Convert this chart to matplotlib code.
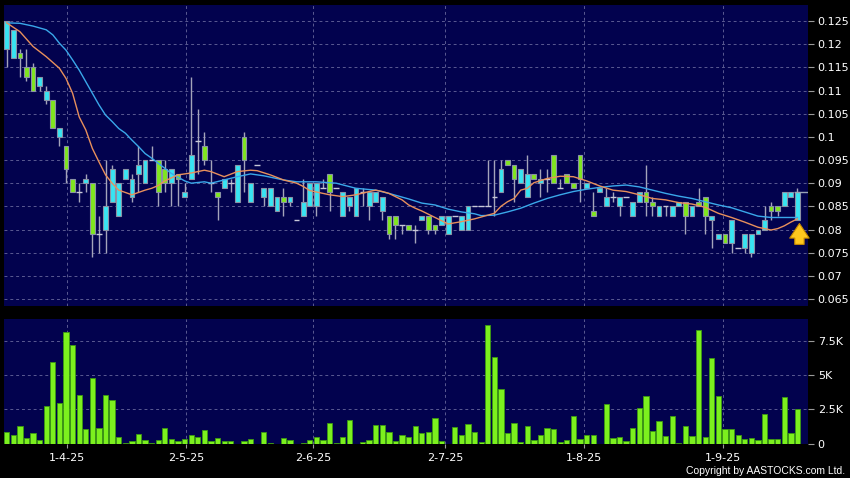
import matplotlib
matplotlib.use('Agg')
import matplotlib.pyplot as plt
import numpy as np

# OHLC (cyan = close above open, green = close below open)
opens = [0.119, 0.117, 0.118, 0.115, 0.115, 0.111, 0.108, 0.108, 0.100, 0.098,
         0.091, 0.088, 0.090, 0.090, 0.079, 0.080, 0.086, 0.083, 0.091, 0.087,
         0.092, 0.090, 0.095, 0.095, 0.093, 0.090, 0.092, 0.087, 0.091, 0.099,
         0.098, 0.090, 0.088, 0.089, 0.090, 0.086, 0.100, 0.086, 0.094, 0.087,
         0.085, 0.084, 0.087, 0.086, 0.082, 0.083, 0.085, 0.085, 0.089, 0.092,
         0.089, 0.083, 0.085, 0.083, 0.088, 0.085, 0.086, 0.084, 0.083, 0.083,
         0.081, 0.081, 0.080, 0.082, 0.083, 0.081, 0.081, 0.079, 0.083, 0.080,
         0.080, 0.085, 0.085, 0.085, 0.087, 0.088, 0.095, 0.094, 0.090, 0.087,
         0.092, 0.090, 0.091, 0.096, 0.089, 0.092, 0.090, 0.096, 0.089, 0.084,
         0.088, 0.085, 0.087, 0.085, 0.087, 0.083, 0.086, 0.088, 0.086, 0.083,
         0.085, 0.083, 0.085, 0.086, 0.083, 0.086, 0.087, 0.082, 0.078, 0.079,
         0.077, 0.076, 0.076, 0.075, 0.079, 0.080, 0.085, 0.085, 0.085, 0.087,
         0.082]
highs = [0.125, 0.123, 0.119, 0.119, 0.116, 0.113, 0.111, 0.108, 0.102, 0.098,
         0.091, 0.090, 0.092, 0.090, 0.083, 0.095, 0.094, 0.090, 0.093, 0.092,
         0.098, 0.095, 0.098, 0.095, 0.095, 0.093, 0.092, 0.090, 0.113, 0.106,
         0.101, 0.095, 0.088, 0.091, 0.091, 0.094, 0.101, 0.090, 0.094, 0.089,
         0.089, 0.087, 0.089, 0.087, 0.082, 0.091, 0.090, 0.090, 0.091, 0.092,
         0.089, 0.088, 0.087, 0.089, 0.089, 0.088, 0.088, 0.087, 0.083, 0.083,
         0.081, 0.081, 0.081, 0.083, 0.083, 0.081, 0.083, 0.083, 0.083, 0.083,
         0.085, 0.085, 0.085, 0.095, 0.095, 0.095, 0.095, 0.094, 0.093, 0.096,
         0.092, 0.093, 0.093, 0.096, 0.091, 0.092, 0.090, 0.096, 0.090, 0.088,
         0.089, 0.089, 0.088, 0.087, 0.087, 0.086, 0.088, 0.094, 0.087, 0.085,
         0.085, 0.085, 0.086, 0.086, 0.085, 0.089, 0.087, 0.083, 0.079, 0.079,
         0.082, 0.076, 0.079, 0.079, 0.080, 0.085, 0.086, 0.085, 0.088, 0.088,
         0.089]
lows = [0.115, 0.117, 0.113, 0.112, 0.110, 0.110, 0.107, 0.102, 0.098, 0.090,
        0.088, 0.086, 0.088, 0.074, 0.075, 0.075, 0.086, 0.083, 0.091, 0.086,
        0.088, 0.090, 0.095, 0.085, 0.088, 0.085, 0.085, 0.087, 0.091, 0.092,
        0.094, 0.088, 0.082, 0.089, 0.088, 0.086, 0.088, 0.086, 0.094, 0.085,
        0.085, 0.084, 0.083, 0.085, 0.082, 0.083, 0.085, 0.083, 0.089, 0.084,
        0.089, 0.083, 0.084, 0.083, 0.085, 0.082, 0.086, 0.082, 0.078, 0.078,
        0.079, 0.080, 0.077, 0.082, 0.079, 0.079, 0.081, 0.079, 0.083, 0.080,
        0.080, 0.085, 0.085, 0.085, 0.083, 0.088, 0.094, 0.086, 0.090, 0.087,
        0.091, 0.087, 0.088, 0.090, 0.089, 0.090, 0.089, 0.086, 0.089, 0.083,
        0.088, 0.085, 0.086, 0.083, 0.087, 0.083, 0.086, 0.083, 0.083, 0.083,
        0.083, 0.083, 0.085, 0.079, 0.083, 0.085, 0.079, 0.076, 0.078, 0.077,
        0.075, 0.076, 0.075, 0.074, 0.079, 0.080, 0.082, 0.083, 0.085, 0.087,
        0.082]
closes = [0.125, 0.123, 0.117, 0.113, 0.110, 0.113, 0.110, 0.102, 0.102, 0.093,
          0.088, 0.088, 0.091, 0.079, 0.079, 0.085, 0.093, 0.090, 0.093, 0.091,
          0.094, 0.095, 0.095, 0.088, 0.090, 0.093, 0.091, 0.088, 0.096, 0.099,
          0.095, 0.090, 0.087, 0.091, 0.090, 0.094, 0.095, 0.090, 0.094, 0.089,
          0.089, 0.087, 0.086, 0.087, 0.082, 0.086, 0.090, 0.090, 0.089, 0.088,
          0.089, 0.088, 0.087, 0.089, 0.088, 0.088, 0.088, 0.087, 0.079, 0.081,
          0.081, 0.080, 0.080, 0.083, 0.080, 0.080, 0.083, 0.083, 0.083, 0.083,
          0.085, 0.085, 0.085, 0.085, 0.087, 0.093, 0.094, 0.091, 0.093, 0.092,
          0.091, 0.091, 0.091, 0.090, 0.089, 0.090, 0.089, 0.091, 0.090, 0.083,
          0.089, 0.087, 0.087, 0.087, 0.087, 0.086, 0.088, 0.086, 0.085, 0.085,
          0.085, 0.085, 0.086, 0.083, 0.085, 0.085, 0.083, 0.083, 0.079, 0.077,
          0.082, 0.076, 0.079, 0.079, 0.080, 0.082, 0.084, 0.084, 0.088, 0.088,
          0.088]

# volume in thousands of shares
volume_k = [0.81, 0.66, 1.32, 0.44, 0.78, 0.27, 2.72, 5.98, 2.94, 8.2,
            7.25, 3.58, 1.08, 4.78, 1.13, 3.53, 3.2, 0.51, 0.05, 0.17,
            0.69, 0.27, 0.07, 0.29, 1.13, 0.32, 0.17, 0.34, 0.61, 0.51,
            0.96, 0.17, 0.44, 0.2, 0.2, 0.0, 0.17, 0.32, 0.0, 0.83,
            0.07, 0.0, 0.39, 0.25, 0.0, 0.02, 0.25, 0.49, 0.27, 1.47,
            0.07, 0.51, 1.72, 0.0, 0.1, 0.29, 1.37, 1.37, 0.88, 0.17,
            0.59, 0.47, 1.25, 0.78, 0.83, 1.86, 0.17, 0.0, 1.2, 0.59,
            1.4, 0.83, 0.1, 8.68, 6.37, 4.02, 0.76, 1.52, 0.1, 1.25,
            0.25, 0.66, 1.13, 1.05, 0.1, 0.29, 1.99, 0.34, 0.59, 0.59,
            0.0, 2.87, 0.44, 0.47, 0.15, 1.13, 2.6, 3.46, 0.91, 1.64,
            0.54, 2.03, 0.05, 1.25, 0.54, 8.31, 0.47, 6.3, 3.5, 1.08,
            1.08, 0.59, 0.32, 0.44, 0.25, 2.16, 0.34, 0.34, 3.38, 0.74,
            2.52]

# moving averages read at sample bars
ma10_idx = [0, 2, 4, 6, 8, 9, 10, 11, 12, 13, 14, 15, 16, 17, 18, 19, 20, 21, 22, 23,
            24, 26, 28, 30, 31, 33, 35, 37, 38, 40, 42, 44, 45, 46, 48, 49, 51, 53, 55, 56,
            57, 58, 59, 60, 61, 62, 63, 65, 67, 69, 71, 72, 74, 75, 76, 77, 78, 79, 80, 82,
            84, 86, 88, 90, 92, 94, 96, 98, 100, 102, 104, 106, 108, 110, 112, 114, 116, 117,
            118, 119, 120]
ma10_val = [0.1246, 0.1227, 0.1195, 0.1173, 0.1148, 0.1126, 0.1094, 0.1043, 0.1015, 0.0975,
            0.0946, 0.0918, 0.0900, 0.0885, 0.0880, 0.0875, 0.0880, 0.0885, 0.0889, 0.0895,
            0.0905, 0.0918, 0.0922, 0.0928, 0.0925, 0.0914, 0.0925, 0.0928, 0.0927, 0.0918,
            0.0907, 0.0900, 0.0893, 0.0884, 0.0878, 0.0875, 0.0871, 0.0875, 0.0882, 0.0885,
            0.0882, 0.0878, 0.0871, 0.0864, 0.0853, 0.0846, 0.0840, 0.0826, 0.0812, 0.0817,
            0.0823, 0.0827, 0.0835, 0.0850, 0.0860, 0.0867, 0.0885, 0.0889, 0.0901, 0.0910,
            0.0915, 0.0914, 0.0905, 0.0894, 0.0885, 0.0882, 0.0875, 0.0867, 0.0864, 0.0858,
            0.0855, 0.0848, 0.0835, 0.0826, 0.0816, 0.0805, 0.0799, 0.0802, 0.0808, 0.0816,
            0.0823]
ma20_idx = [0, 2, 4, 6, 7, 8, 9, 10, 11, 12, 13, 14, 15, 16, 17, 18, 19, 20, 21, 22,
            23, 24, 25, 27, 28, 30, 31, 33, 35, 37, 39, 42, 44, 47, 50, 53, 56, 58, 60, 61,
            63, 65, 67, 69, 71, 72, 74, 76, 78, 80, 82, 84, 86, 88, 90, 92, 94, 96, 98, 100,
            102, 104, 106, 108, 110, 112, 114, 116, 118, 120]
ma20_val = [0.1246, 0.1245, 0.1239, 0.1231, 0.1220, 0.1202, 0.1187, 0.1166, 0.1144, 0.1119,
            0.1094, 0.1069, 0.1047, 0.1033, 0.1018, 0.1008, 0.0993, 0.0979, 0.0964, 0.0954,
            0.0943, 0.0932, 0.0921, 0.0905, 0.0900, 0.0903, 0.0900, 0.0907, 0.0914, 0.0920,
            0.0916, 0.0907, 0.0903, 0.0903, 0.0900, 0.0889, 0.0885, 0.0878, 0.0870, 0.0866,
            0.0857, 0.0853, 0.0844, 0.0838, 0.0834, 0.0830, 0.0831, 0.0838, 0.0846, 0.0857,
            0.0867, 0.0875, 0.0882, 0.0887, 0.0891, 0.0894, 0.0896, 0.0892, 0.0885, 0.0878,
            0.0872, 0.0867, 0.0860, 0.0853, 0.0847, 0.0838, 0.0829, 0.0826, 0.0826, 0.0826]

date_labels = ['1-4-25', '2-5-25', '2-6-25', '2-7-25', '1-8-25', '1-9-25']
date_pos = [9.1, 27.25, 46.45, 66.5, 87.65, 108.75]
price_ticks = [0.065, 0.07, 0.075, 0.08, 0.085, 0.09, 0.095, 0.1, 0.105, 0.11, 0.115, 0.12, 0.125]
vol_ticks = [0, 2.5, 5, 7.5]
vol_tick_labels = ['0', '2.5K', '5K', '7.5K']

# colours
BG = '#02024e'
GRID = '#5a5a92'
UP = '#38e4f2'
DOWN = '#80e61e'
EDGE = '#8a92a6'
WICK = '#a4a4ba'
VOL = '#7cf01e'

o = np.array(opens)
h = np.array(highs)
l = np.array(lows)
c = np.array(closes)
n = len(c)
x = np.arange(n)
xlim = (-0.41, 121.6)

W, H = 850, 478
fig = plt.figure(figsize=(W / 100, H / 100), dpi=100, facecolor='black')
ax = fig.add_axes([4 / W, (H - 306) / H, 804 / W, 301 / H])
axv = fig.add_axes([4 / W, (H - 443.5) / H, 804 / W, 124.5 / H])

for a in (ax, axv):
    a.set_facecolor(BG)
    for s in a.spines.values():
        s.set_visible(False)
    a.set_xlim(*xlim)
    a.set_xticks(date_pos)
    a.grid(True, color=GRID, linestyle=(0, (3, 3)), linewidth=0.7)
    a.set_axisbelow(True)
    a.yaxis.tick_right()
    a.tick_params(axis='y', colors='#9a9a9a', labelcolor='white', length=4,
                  width=0.8, pad=3, labelsize=8)

ax.tick_params(axis='x', length=0, labelbottom=False)
axv.set_xticklabels(date_labels)
axv.tick_params(axis='x', colors='#9a9a9a', labelcolor='white', length=3,
                pad=4, labelsize=8)

# price panel
ax.set_ylim(0.0635, 0.12845)
ax.set_yticks(price_ticks)
ax.set_yticklabels([f"{v:g}" for v in price_ticks])

up = c > o
down = c < o
flat = c == o
ax.vlines(x, l, h, color=WICK, linewidth=1.0, zorder=2)
ax.bar(x[up], (c - o)[up], bottom=o[up], width=0.72, color=UP,
       edgecolor=EDGE, linewidth=0.8, zorder=3)
ax.bar(x[down], (o - c)[down], bottom=c[down], width=0.72, color=DOWN,
       edgecolor=EDGE, linewidth=0.8, zorder=3)
ax.hlines(c[flat], x[flat] - 0.42, x[flat] + 0.42, color='#c8c8d8',
          linewidth=1.0, zorder=3)

ax.plot(ma20_idx, ma20_val, color='#3aa8ea', linewidth=1.0, zorder=4)
ax.plot(ma10_idx, ma10_val, color='#e8905c', linewidth=1.0, zorder=4)

# last price line and marker arrow under the last bar
ax.hlines(c[-1], n - 1.6, xlim[1], color='#9aa4b4', linewidth=1.0, zorder=4)
ax.annotate('', xy=(n - 1 + 0.3, o[-1] - 0.0007), xytext=(n - 1 + 0.3, o[-1] - 0.0052),
            arrowprops=dict(arrowstyle='simple,head_width=1.0,head_length=0.75,tail_width=0.48',
                            mutation_scale=14, shrinkA=0, shrinkB=0,
                            fc='#ffc81e', ec='#c88a00', lw=0.8), zorder=5)

# volume panel
axv.set_ylim(0, 9.14)
axv.set_yticks(vol_ticks)
axv.set_yticklabels(vol_tick_labels)
axv.bar(x, volume_k, width=0.8, color=VOL, edgecolor='#3c9a12', linewidth=0.6, zorder=3)

fig.text(845 / W, 1 - 471 / H, 'Copyright by AASTOCKS.com Ltd.', color='white',
         fontsize=7.5, ha='right', va='center',
         family=['Liberation Sans Narrow', 'Liberation Sans', 'DejaVu Sans'])

fig.savefig('out.png', dpi=100, facecolor='black')
